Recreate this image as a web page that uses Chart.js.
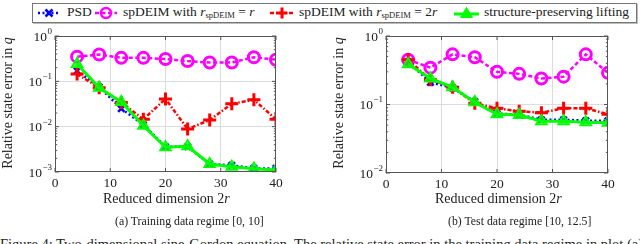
<!DOCTYPE html>
<html lang="en">
<head>
<meta charset="UTF-8">
<title>Relative state error vs reduced dimension</title>
<script src="https://cdn.jsdelivr.net/npm/chart.js"></script>
<style>
    body {
        margin: 0;
        width: 640px;
        height: 244px;
        overflow: hidden;
        background: #ffffff;
        font-family: "Liberation Serif", "DejaVu Serif", serif;
        color: #222;
        position: relative;
    }
    .abs { position: absolute; white-space: nowrap; }
    .legend-box {
        position: absolute;
        left: 32px; top: 3px;
        width: 603px; height: 18px;
        border: 1px solid #777;
        box-shadow: 1px 1px 0 #bbb;
    }
    .legend-text { font-size: 13.5px; top: 0px; }
    .legend-text sub { font-size: 8.5px; vertical-align: -2px; }
    .axis-title { font-size: 14px; }
    .ytitle { transform: rotate(-90deg); transform-origin: center center; }
    .caption { font-size: 11.8px; }
    .figline { font-size: 14.5px; top: 236px; left: 0; }
    canvas { position: absolute; }
</style>
</head>
<body>
    <!-- legend -->
    <div class="legend-box">
        <svg class="abs" style="left:4px;top:2px" width="24" height="14">
            <line x1="1" y1="7" x2="23" y2="7" stroke="#0000ff" stroke-width="2.5" stroke-dasharray="2,2.5"/>
            <path d="M8.5 3.5 L15.5 10.5 M15.5 3.5 L8.5 10.5" stroke="#0000ff" stroke-width="2.5"/>
        </svg>
        <span class="abs legend-text" style="left:34px">PSD</span>
        <svg class="abs" style="left:61px;top:1px" width="24" height="16">
            <line x1="1" y1="8" x2="23" y2="8" stroke="#ff00ff" stroke-width="2.5" stroke-dasharray="4,2.5"/>
            <circle cx="12" cy="8" r="5" fill="none" stroke="#ff00ff" stroke-width="2.5"/>
        </svg>
        <span class="abs legend-text" style="left:90px">spDEIM with <i>r</i><sub>spDEIM</sub> = <i>r</i></span>
        <svg class="abs" style="left:236px;top:1px" width="26" height="16">
            <line x1="1" y1="8" x2="25" y2="8" stroke="#ff0000" stroke-width="2.5" stroke-dasharray="4,2,1.5,2"/>
            <path d="M13 2.5 L13 13.5 M7.5 8 L18.5 8" stroke="#ff0000" stroke-width="3"/>
        </svg>
        <span class="abs legend-text" style="left:266px">spDEIM with <i>r</i><sub>spDEIM</sub> = 2<i>r</i></span>
        <svg class="abs" style="left:420px;top:1px" width="27" height="16">
            <line x1="1" y1="9" x2="26" y2="9" stroke="#00ff00" stroke-width="3"/>
            <path d="M13.5 2.5 L19.5 12.5 L7.5 12.5 Z" fill="#00ff00" stroke="#00ff00" stroke-width="1"/>
        </svg>
        <span class="abs legend-text" style="left:451px">structure-preserving lifting</span>
    </div>

    <canvas id="trainChart" style="left:0px;top:26px"></canvas>
    <canvas id="testChart" style="left:330px;top:26px"></canvas>

    <!-- axis titles -->
    <span class="abs axis-title" style="left:103px;top:191px">Reduced dimension 2<i>r</i></span>
    <span class="abs axis-title" style="left:435px;top:191px">Reduced dimension 2<i>r</i></span>
    <span class="abs axis-title ytitle" style="left:-62px;top:95px;width:140px;text-align:center">Relative state error in <i>q</i></span>
    <span class="abs axis-title ytitle" style="left:269px;top:95px;width:140px;text-align:center">Relative state error in <i>q</i></span>

    <!-- captions -->
    <span class="abs caption" style="left:115px;top:214px">(a) Training data regime [0, 10]</span>
    <span class="abs caption" style="left:448px;top:214px">(b) Test data regime [10, 12.5]</span>
    <span class="abs figline">Figure 4: Two-dimensional sine-Gordon equation. The relative state error in the training data regime in plot (a) shows that the structure-preserving</span>

<script>
    // reduced dimension 2r
    const dims = [4, 8, 12, 16, 20, 24, 28, 32, 36, 40];

    // (a) training data regime [0, 10]
    const psdTrain     = [0.17, 0.075, 0.025, 0.011, 0.0036, 0.0036, 0.0015, 0.0014, 0.0012, 0.0012];
    const spdeimRTrain = [0.35, 0.39, 0.33, 0.33, 0.31, 0.28, 0.26, 0.26, 0.34, 0.30];
    const spdeim2rTrain = [0.145, 0.072, 0.034, 0.0146, 0.041, 0.0089, 0.014, 0.032, 0.039, 0.0146];
    const liftTrain    = [0.24, 0.072, 0.035, 0.0105, 0.0035, 0.0037, 0.0015, 0.0013, 0.00118, 0.0011];

    // (b) test data regime [10, 12.5]
    const psdTest      = [0.42, 0.21, 0.175, 0.11, 0.074, 0.071, 0.06, 0.06, 0.058, 0.058];
    const spdeimRTest  = [0.45, 0.345, 0.54, 0.49, 0.30, 0.28, 0.24, 0.255, 0.54, 0.29];
    const spdeim2rTest = [0.45, 0.23, 0.178, 0.104, 0.088, 0.080, 0.076, 0.088, 0.088, 0.072];
    const liftTest     = [0.386, 0.24, 0.178, 0.108, 0.072, 0.070, 0.057, 0.057, 0.055, 0.054];

    // tick values
    const xTicks = [0, 10, 20, 30, 40];
    const yExpTrain = [0, -1, -2, -3];
    const yExpTest = [0, -1, -2];

    const axisColor = '#555555';
    const gridColor = '#dcdcdc';
    const tickFont = '"Liberation Serif", "DejaVu Serif", serif';

    const toPoints = ys => dims.map((x, i) => ({ x: x, y: ys[i] }));

    // pgfplots-like box, inner ticks and 10^k labels
    const axisDeco = {
        id: 'axisDeco',
        afterDraw(chart) {
            const { ctx, chartArea: a, scales } = chart;
            const xs = scales.x, ys = scales.y;
            ctx.save();
            ctx.strokeStyle = axisColor;
            ctx.lineWidth = 1;
            // minor + major y ticks
            const lo = Math.round(Math.log10(ys.min)), hi = Math.round(Math.log10(ys.max));
            ctx.beginPath();
            for (let e = lo; e <= hi; e++) {
                const major = ys.getPixelForValue(Math.pow(10, e));
                ctx.moveTo(a.left, major); ctx.lineTo(a.left + 4, major);
                ctx.moveTo(a.right, major); ctx.lineTo(a.right - 4, major);
                if (e === hi) continue;
                for (let k = 2; k <= 9; k++) {
                    const p = ys.getPixelForValue(k * Math.pow(10, e));
                    ctx.moveTo(a.left, p); ctx.lineTo(a.left + 2.2, p);
                    ctx.moveTo(a.right, p); ctx.lineTo(a.right - 2.2, p);
                }
            }
            // x ticks
            xTicks.forEach(v => {
                const p = xs.getPixelForValue(v);
                ctx.moveTo(p, a.bottom); ctx.lineTo(p, a.bottom - 4);
                ctx.moveTo(p, a.top); ctx.lineTo(p, a.top + 4);
            });
            ctx.stroke();
            ctx.strokeRect(a.left + 0.5, a.top + 0.5, a.right - a.left - 1, a.bottom - a.top - 1);

            // y labels 10^e
            const exps = chart.options.plugins.axisDeco.exps;
            ctx.fillStyle = '#222';
            ctx.textBaseline = 'middle';
            exps.forEach(e => {
                const p = ys.getPixelForValue(Math.pow(10, e));
                const expTxt = e === 0 ? '0' : '\u2212' + Math.abs(e);
                ctx.font = '9px ' + tickFont;
                const ew = ctx.measureText(expTxt).width;
                ctx.textAlign = 'right';
                ctx.fillText(expTxt, a.left - 3, p - 4.5);
                ctx.font = '13.5px ' + tickFont;
                ctx.fillText('10', a.left - 3 - ew - 0.5, p + 1);
            });
            ctx.restore();
        }
    };

    function makeChart(id, series, exps, yMin, plotW, padRight, xHeight) {
        const [psd, spR, sp2r, lift] = series;
        return new Chart(document.getElementById(id), {
            type: 'line',
            data: {
                datasets: [
                    {
                        label: 'structure-preserving lifting',
                        data: toPoints(lift),
                        borderColor: '#00ff00',
                        backgroundColor: 'rgba(0,255,0,0.75)',
                        borderWidth: 3,
                        pointStyle: 'triangle',
                        pointRadius: 6.5,
                        pointBorderWidth: 1.5,
                        order: 0
                    },
                    {
                        label: 'spDEIM with r_spDEIM = 2r',
                        data: toPoints(sp2r),
                        borderColor: '#ff0000',
                        backgroundColor: '#ff0000',
                        borderWidth: 2.5,
                        borderDash: [4, 2, 1.5, 2],
                        pointStyle: 'cross',
                        pointRadius: 6.5,
                        pointBorderWidth: 3,
                        order: 1
                    },
                    {
                        label: 'spDEIM with r_spDEIM = r',
                        data: toPoints(spR),
                        borderColor: '#ff00ff',
                        backgroundColor: 'rgba(0,0,0,0)',
                        borderWidth: 2.5,
                        borderDash: [4, 2.5],
                        pointStyle: 'circle',
                        pointRadius: 5.5,
                        pointBorderWidth: 3,
                        order: 2
                    },
                    {
                        label: 'PSD',
                        data: toPoints(psd),
                        borderColor: '#0000ff',
                        backgroundColor: '#0000ff',
                        borderWidth: 2.5,
                        borderDash: [2, 2.5],
                        pointStyle: 'crossRot',
                        pointRadius: 4.5,
                        pointBorderWidth: 2.5,
                        order: 3
                    }
                ]
            },
            options: {
                responsive: false,
                animation: false,
                devicePixelRatio: 1,
                layout: { padding: { top: 10, right: padRight, left: 0, bottom: 0 } },
                plugins: {
                    legend: { display: false },
                    tooltip: { enabled: false },
                    axisDeco: { exps: exps }
                },
                scales: {
                    x: {
                        type: 'linear',
                        min: 0, max: 40,
                        afterBuildTicks: s => { s.ticks = xTicks.map(v => ({ value: v })); },
                        afterFit: s => { s.height = xHeight; },
                        grid: {
                            color: c => (c.tick && (c.tick.value === 0 || c.tick.value === 40)) ? 'rgba(0,0,0,0)' : gridColor,
                            drawTicks: false
                        },
                        border: { display: false },
                        ticks: {
                            padding: 3,
                            color: '#222',
                            font: { family: tickFont, size: 13.5 }
                        }
                    },
                    y: {
                        type: 'logarithmic',
                        min: yMin, max: 1,
                        afterBuildTicks: s => { s.ticks = exps.map(e => ({ value: Math.pow(10, e) })); },
                        afterFit: s => { s.width = plotW; },
                        grid: {
                            color: c => (c.tick && (c.tick.value === 1 || c.tick.value === yMin)) ? 'rgba(0,0,0,0)' : gridColor,
                            drawTicks: false
                        },
                        border: { display: false },
                        ticks: { display: false }
                    }
                }
            },
            plugins: [axisDeco]
        });
    }

    const c1 = document.getElementById('trainChart');
    c1.width = 290; c1.height = 170;
    const c2 = document.getElementById('testChart');
    c2.width = 290; c2.height = 170;

    makeChart('trainChart', [psdTrain, spdeimRTrain, spdeim2rTrain, liftTrain], yExpTrain, 1e-3, 55, 14, 24);
    makeChart('testChart', [psdTest, spdeimRTest, spdeim2rTest, liftTest], yExpTest, 1e-2, 56, 12, 23);
</script>
</body>
</html>
